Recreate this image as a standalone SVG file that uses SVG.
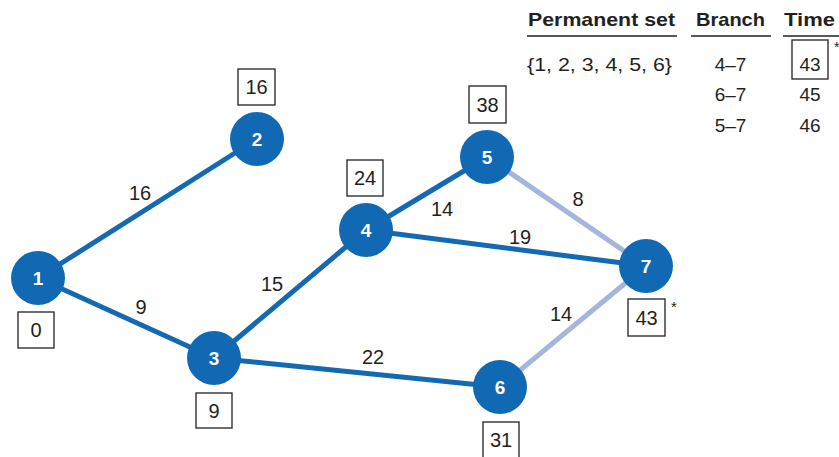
<svg xmlns="http://www.w3.org/2000/svg" width="839" height="457" viewBox="0 0 839 457">
<style>
text{font-family:"Liberation Sans",Arial,sans-serif;fill:#231f20}
.e{stroke:#1469b3;stroke-width:5;fill:none}
.l{stroke:#a4b6dc;stroke-width:5;fill:none}
.n circle{fill:#1169b3}
.n text{fill:#fff;font-weight:bold;font-size:19px;text-anchor:middle}
.b{fill:#fff;stroke:#231f20;stroke-width:1.3}
.bt{font-size:20px;text-anchor:middle}
.el{font-size:20px;text-anchor:middle}
.h{font-size:19px;font-weight:bold}
.t{font-size:19px}
</style>
<rect width="839" height="457" fill="#fff"/>
<g id="connectors">
<line class="e" x1="38" y1="278" x2="257" y2="139"/>
<line class="e" x1="38" y1="278" x2="214" y2="358"/>
<line class="e" x1="214" y1="358" x2="366" y2="230"/>
<line class="e" x1="214" y1="358" x2="500" y2="387"/>
<line class="e" x1="366" y1="230" x2="487" y2="157"/>
<line class="e" x1="366" y1="230" x2="646" y2="266"/>
<line class="l" x1="487" y1="157" x2="646" y2="266"/>
<line class="l" x1="500" y1="387" x2="646" y2="266"/>
<text class="el" x="140" y="200">16</text>
<text class="el" x="141" y="314">9</text>
<text class="el" x="272" y="291">15</text>
<text class="el" x="442" y="216">14</text>
<text class="el" x="578" y="206">8</text>
<text class="el" x="520" y="244">19</text>
<text class="el" x="561" y="321">14</text>
<text class="el" x="373" y="364">22</text>
</g>
<g id="node1" class="n"><circle cx="38" cy="278" r="27"/><text x="38" y="285">1</text></g>
<g id="node2" class="n"><circle cx="257" cy="139" r="27"/><text x="257" y="146">2</text></g>
<g id="node3" class="n"><circle cx="214" cy="358" r="27"/><text x="214" y="365">3</text></g>
<g id="node4" class="n"><circle cx="366" cy="230" r="27"/><text x="366" y="237">4</text></g>
<g id="node5" class="n"><circle cx="487" cy="157" r="27"/><text x="487" y="164">5</text></g>
<g id="node6" class="n"><circle cx="500" cy="387" r="27"/><text x="500" y="394">6</text></g>
<g id="node7" class="n"><circle cx="646" cy="266" r="27"/><text x="646" y="273">7</text></g>
<g id="label1"><rect class="b" x="18" y="312" width="36" height="36"/><text class="bt" x="36" y="337">0</text></g>
<g id="label2"><rect class="b" x="238" y="69" width="37" height="36"/><text class="bt" x="256.5" y="94">16</text></g>
<g id="label3"><rect class="b" x="196" y="393" width="36" height="35"/><text class="bt" x="214" y="418">9</text></g>
<g id="label4"><rect class="b" x="347" y="160" width="36" height="36"/><text class="bt" x="365" y="185">24</text></g>
<g id="label5"><rect class="b" x="469" y="86" width="37" height="37"/><text class="bt" x="487.5" y="112">38</text></g>
<g id="label6"><rect class="b" x="483" y="422" width="36" height="36"/><text class="bt" x="501" y="447">31</text></g>
<g id="label7"><rect class="b" x="628" y="299" width="37" height="37"/><text class="bt" x="646.5" y="325">43</text><text x="671" y="312" font-size="15">*</text></g>
<g id="table">
<text class="h" x="528" y="26" textLength="147" lengthAdjust="spacingAndGlyphs">Permanent set</text>
<text class="h" x="696" y="26" textLength="69" lengthAdjust="spacingAndGlyphs">Branch</text>
<text class="h" x="784" y="26" textLength="51" lengthAdjust="spacingAndGlyphs">Time</text>
<line x1="527" y1="36" x2="677" y2="36" stroke="#231f20" stroke-width="1.3"/>
<line x1="691" y1="36" x2="771" y2="36" stroke="#231f20" stroke-width="1.3"/>
<line x1="783" y1="36" x2="839" y2="36" stroke="#231f20" stroke-width="1.3"/>
<text class="t" x="527" y="71" textLength="145" lengthAdjust="spacingAndGlyphs">{1, 2, 3, 4, 5, 6}</text>
<text class="t" x="730.5" y="71" text-anchor="middle">4–7</text>
<text class="t" x="730.5" y="101" text-anchor="middle">6–7</text>
<text class="t" x="730.5" y="132" text-anchor="middle">5–7</text>
<rect class="b" x="792" y="40" width="36" height="39"/>
<text class="t" x="810" y="71" text-anchor="middle">43</text>
<text class="t" x="810" y="101" text-anchor="middle">45</text>
<text class="t" x="810" y="132" text-anchor="middle">46</text>
<text x="834" y="52" font-size="14">*</text>
</g>
</svg>
